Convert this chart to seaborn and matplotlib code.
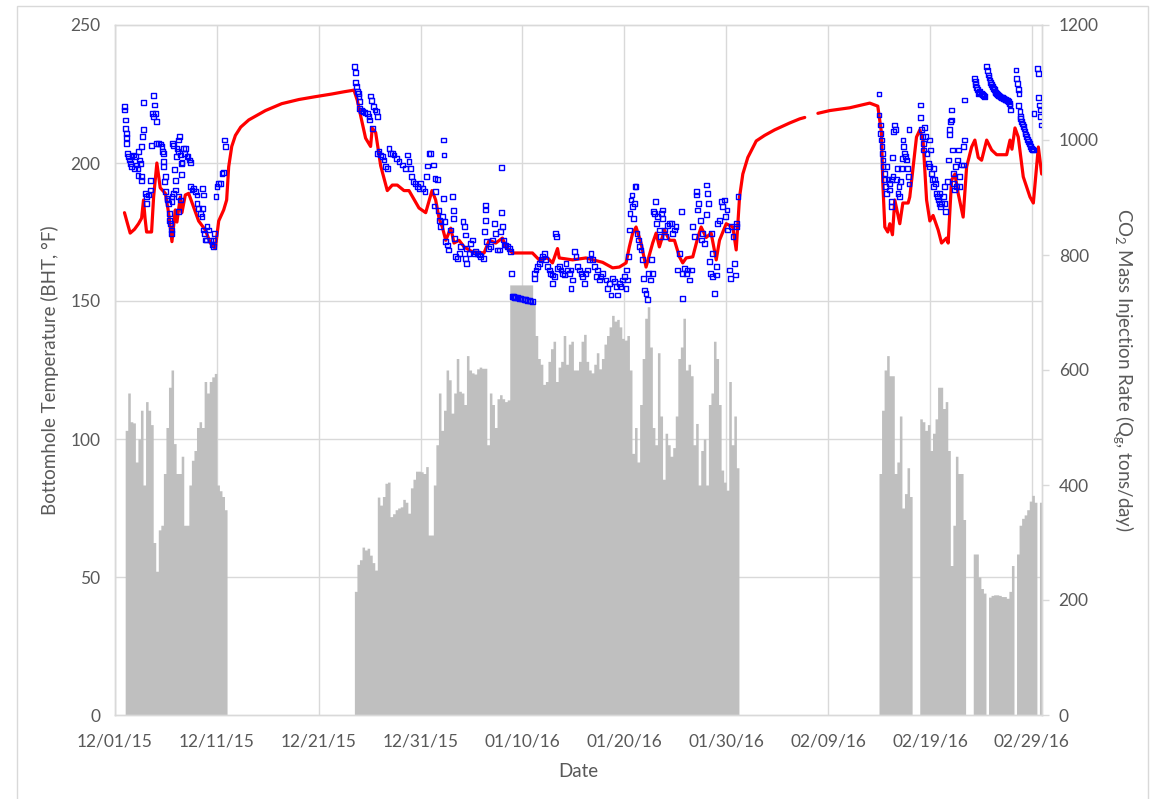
import numpy as np
import pandas as pd
import matplotlib
matplotlib.use("Agg")
import matplotlib.pyplot as plt
import matplotlib.dates as mdates
from matplotlib.patches import Rectangle
import seaborn as sns

# all times are days counted from 12/01/15
t0 = pd.Timestamp("2015-12-01")

# CO2 injection rate (tons/day), 6-hour bins, one list per injection period
rate_step = 0.25
rate_a_start = 1.0
rate_a = [495, 560, 510, 508, 440, 480, 530, 400, 545, 530,
          505, 300, 250, 322, 330, 420, 500, 570, 600, 472,
          420, 420, 450, 330, 330, 400, 443, 460, 500, 510,
          500, 580, 560, 580, 588, 594, 400, 390, 380, 357]
rate_b_start = 23.5
rate_b = [215, 262, 270, 292, 287, 290, 278, 265, 252, 379,
          365, 380, 403, 405, 345, 350, 357, 360, 362, 375,
          370, 351, 395, 410, 424, 424, 423, 420, 432, 313,
          313, 400, 470, 560, 495, 530, 600, 583, 525, 560,
          620, 563, 560, 540, 625, 600, 595, 593, 602, 605,
          603, 603, 470, 560, 540, 500, 550, 557, 550, 545,
          548, 748, 748, 748, 748, 748, 748, 748, 748, 748,
          720, 660, 620, 610, 575, 580, 615, 637, 650, 580,
          605, 615, 660, 610, 645, 650, 600, 600, 615, 650,
          662, 615, 600, 595, 610, 630, 602, 620, 645, 660,
          675, 695, 685, 688, 675, 655, 652, 660, 600, 455,
          500, 440, 540, 620, 690, 710, 640, 500, 470, 630,
          520, 410, 490, 470, 450, 465, 520, 620, 640, 690,
          600, 610, 590, 470, 507, 400, 460, 480, 400, 540,
          560, 650, 620, 540, 426, 405, 391, 580, 470, 520,
          430]
rate_c_start = 75.0
rate_c = [420, 530, 600, 625, 590, 590, 420, 440, 520, 360, 385, 430, 380]
rate_d_start = 79.0
rate_d = [515, 510, 495, 505, 460, 490, 515, 570, 570, 533,
          545, 460, 260, 330, 450, 420, 420, 340]
rate_e_start = 84.25
rate_e = [280, 280, 240, 220, 212, 0, 205, 208, 209, 209,
          208, 206, 206, 203, 215, 260, 0, 280, 330, 342,
          348, 357, 372, 382, 370, 0, 370]

# red line (BHT, F)
red_day = [0.93, 1.23, 1.49, 1.92, 2.31, 2.61, 2.80, 2.95, 3.10, 3.59,
           3.79, 4.11, 4.44, 4.94, 5.26, 5.59, 5.92, 6.08, 6.41, 6.57,
           6.90, 7.23, 7.72, 8.21, 8.87, 9.36, 9.85, 10.18, 10.67, 10.96,
           11.16, 11.46, 11.82, 12.34, 13.13, 14.77, 16.37, 18.05, 19.62, 21.29,
           22.47, 23.46, 23.78, 24.24, 24.60, 25.09, 25.25, 25.59, 26.08, 26.73,
           27.22, 27.71, 28.37, 28.86, 29.84, 30.50, 31.12, 31.48, 31.81, 32.13,
           32.47, 32.96, 33.28, 33.78, 34.27, 35.08, 36.23, 36.73, 37.38, 38.03,
           38.37, 39.02, 40.98, 41.64, 42.46, 42.95, 43.44, 43.61, 44.92, 46.23,
           47.87, 48.85, 49.51, 50.17, 50.49, 50.82, 51.15, 51.64, 52.13, 52.78,
           53.12, 53.44, 53.93, 54.43, 54.92, 55.41, 55.73, 56.07, 56.72, 57.21,
           57.54, 58.03, 58.52, 59.02, 59.34, 60.00, 60.65, 60.98, 61.31, 61.63,
           62.12, 62.95, 63.77, 64.75, 66.23, 67.22, 67.71, 69.00, 70.17, 72.12,
           74.09, 74.88, 75.24, 75.37, 75.57, 75.86, 76.06, 76.32, 76.55, 77.04,
           77.34, 77.86, 78.02, 78.68, 79.01, 79.33, 79.67, 79.99, 80.31, 80.81,
           81.14, 81.63, 81.79, 82.12, 82.45, 82.77, 83.26, 83.60, 84.09, 84.41,
           84.74, 85.07, 85.57, 86.06, 86.55, 87.53, 87.86, 88.05, 88.35, 88.67,
           89.16, 89.82, 90.15, 90.64, 90.97]
red_bht = [182, 178, 174.6, 176, 178, 180, 186.6, 180, 175, 175,
           187.7, 200, 191, 189, 182, 171.5, 183, 178.6, 187.7, 182,
           188.4, 189, 184, 179, 175.7, 171, 169, 179, 183, 186.6,
           198.6, 206, 210, 213, 215.6, 219, 221.5, 223, 224, 225,
           225.8, 226.4, 222.8, 215, 209, 206, 212.6, 211, 199, 190,
           192, 192, 190, 190, 183.7, 182, 190, 186.6, 180, 176.8,
           172, 176.4, 171, 172, 169.6, 167.8, 167.4, 172, 171, 172.8,
           169.6, 167.4, 167.4, 164.9, 165.6, 163.8, 169, 165.6, 164.9, 165.6,
           164, 162, 162.3, 163.8, 169.6, 174.6, 176.8, 171, 162.3, 171,
           174.6, 169.6, 175.7, 172, 172, 166, 163.8, 165.6, 166, 173,
           176.8, 173, 174.6, 164.9, 172, 178, 176.8, 168.5, 187.7, 196,
           202, 208, 210, 212, 214.5, 216, 216.5, 218, 219, 220,
           221.7, 220.6, 211, 193, 176.8, 175, 178, 174, 186.6, 178,
           185.5, 185.5, 187.7, 209.4, 212, 208, 186.6, 179, 181, 175.7,
           171, 172.8, 171, 193.8, 196, 189, 180.4, 198.6, 205.8, 208.3,
           202, 201, 208.3, 204.7, 203, 203, 208.3, 205, 212.7, 209.4,
           195, 187.7, 185.5, 205.8, 196]
red_gap_day = 68.0

# blue squares (measured BHT, F)
blue_a_day = [0.93, 0.93, 1.07, 1.07, 1.16, 1.16, 1.16, 1.26, 1.33, 1.39,
              1.49, 1.59, 1.66, 1.82, 1.92, 2.05, 2.15, 2.25, 2.31, 2.38,
              2.47, 2.25, 2.57, 2.64, 2.57, 2.70, 2.80, 2.80, 2.97, 3.13,
              3.29, 3.46, 3.13, 3.46, 3.62, 3.69, 3.79, 3.79, 3.85, 3.95,
              4.05, 4.11, 4.28, 4.44, 4.61, 4.70, 4.77, 4.77, 4.77, 4.93,
              4.87, 4.93, 5.10, 5.19, 5.26, 5.33, 5.36, 5.42, 5.52, 5.52,
              5.59, 5.65, 5.75, 5.85, 5.92, 6.01, 6.08, 6.18, 6.24, 6.31,
              6.41, 6.51, 6.57, 6.74, 6.83, 6.96, 7.06, 7.16, 7.29, 7.39,
              6.51, 6.41, 6.24, 5.92, 5.75, 5.59, 6.24, 7.39, 7.56, 7.72,
              7.88, 8.05, 8.05, 8.21, 8.37, 8.54, 8.60, 8.70, 8.60, 8.70,
              8.80, 8.87, 9.03, 9.19, 9.36, 9.53, 9.69, 9.78, 10.01, 10.18,
              10.34, 10.50, 10.67, 10.83, 10.77, 9.91, 9.69, 8.93]
blue_a_bht = [220.6, 219.2, 215.6, 212.6, 210.8, 209.3, 207.1, 203.3, 202.3, 201.1,
              199.9, 198.7, 202.3, 202.9, 198.1, 202.3, 199.3, 198.1, 204.1, 201.1,
              199.9, 195.6, 195.1, 193.8, 205.9, 209.5, 212.0, 222.0, 189.0, 187.8,
              188.4, 190.2, 185.4, 193.8, 206.2, 218.0, 216.8, 224.6, 221.0, 218.0,
              215.0, 207.1, 207.1, 206.9, 205.9, 204.1, 203.5, 200.5, 198.7, 195.1,
              193.2, 189.6, 187.2, 186.6, 185.4, 181.8, 179.3, 178.1, 175.7, 174.5,
              186.0, 207.1, 206.2, 197.5, 193.8, 202.3, 205.3, 204.1, 208.3, 209.5,
              202.9, 199.9, 200.1, 205.3, 203.5, 205.3, 202.3, 202.3, 201.1, 200.2,
              195.7, 186.6, 182.4, 190.2, 189.0, 187.8, 187.8, 191.4, 190.2, 190.8,
              189.6, 188.4, 185.4, 183.6, 181.8, 180.6, 190.8, 188.4, 183.6, 175.7,
              174.5, 172.1, 176.9, 175.7, 172.1, 170.3, 169.7, 174.5, 191.4, 192.6,
              192.6, 196.3, 196.5, 205.9, 208.3, 187.8, 172.1, 172.1]

blue_b_day = [23.52, 23.62, 23.62, 23.68, 23.78, 23.88, 23.95, 24.01, 24.04, 24.18,
              24.34, 24.54, 24.77, 24.93, 25.00, 25.09, 25.16, 25.26, 25.36, 25.52,
              25.65, 25.75, 25.75, 25.91, 26.08, 26.24, 26.40, 26.57, 26.73, 26.90,
              27.06, 27.22, 27.39, 27.62, 27.88, 28.21, 28.54, 28.70, 28.86, 29.03,
              29.13, 29.26, 29.45, 29.68, 29.85, 30.01, 30.24, 30.44, 30.57, 30.67,
              30.83, 30.99, 31.26, 31.42, 31.49, 31.65, 32.21, 32.30, 31.32, 31.75,
              31.88, 31.98, 32.14, 32.21, 32.40, 32.47, 32.63, 32.73, 32.96, 33.12,
              33.22, 33.19, 33.29, 33.45, 33.62, 33.78, 33.94, 34.17, 34.27, 34.37,
              34.50, 34.43, 34.50, 34.76, 34.93, 35.09, 35.25, 35.42, 35.58, 35.75,
              35.91, 36.14, 36.27, 36.40, 36.40, 36.40, 36.50, 36.66, 36.89, 37.06,
              37.22, 37.38, 37.55, 37.71, 37.88, 37.94, 38.04, 38.11, 38.24, 38.37,
              38.53, 38.70, 38.86, 37.97, 38.93, 39.02, 39.10, 39.20, 39.35, 39.50,
              39.68, 39.85, 40.01, 40.17, 40.33, 40.50, 40.66, 40.82, 40.99, 41.15,
              41.15, 41.32, 41.48, 41.65, 41.81, 41.97, 42.14, 42.30, 42.46, 42.63,
              42.79, 42.96, 43.12, 42.96, 43.28, 43.35, 43.45, 43.61, 43.78, 43.94,
              44.10, 44.27, 44.43, 44.60, 44.76, 44.76, 44.92, 45.09, 45.25, 45.42,
              45.58, 45.74, 45.91, 46.07, 46.23, 46.40, 46.56, 46.73, 46.89, 47.05,
              47.22, 47.38, 47.55, 47.71, 47.87, 48.20, 48.36, 48.53, 48.69, 48.86,
              49.02, 49.18, 49.35, 49.51, 49.68, 49.84, 50.00, 50.17, 50.23, 50.33,
              50.43, 50.50, 50.56, 50.66, 50.76, 50.82, 50.89, 50.99, 51.05, 51.15,
              51.25, 51.41, 51.48, 51.64, 51.81, 51.87, 51.97, 52.13, 52.30, 52.40,
              52.53, 52.63, 52.79, 52.85, 52.95, 53.05, 53.12, 53.28, 53.45, 53.51,
              53.61, 53.71, 53.77, 53.94, 54.04, 54.26, 54.43, 54.59, 54.76, 54.92,
              55.08, 55.25, 55.41, 55.58, 55.67, 55.74, 55.90, 56.07, 56.23, 56.39,
              56.56, 56.72, 56.89, 57.05, 57.12, 57.21, 57.31, 57.44, 57.54, 57.71,
              57.87, 58.03, 58.10, 58.20, 58.30, 58.36, 58.43, 58.53, 58.62, 58.69,
              58.85, 59.02, 59.08, 59.18, 59.34, 59.51, 59.67, 59.84, 59.93, 60.07,
              60.16, 60.33, 60.39, 60.49, 60.66, 60.82, 60.92, 60.98, 61.05, 61.15]
blue_b_bht = [234.9, 232.7, 229.1, 227.7, 225.9, 225.2, 224.0, 222.2, 219.8, 219.0,
              218.6, 218.2, 217.8, 216.8, 215.6, 224.3, 222.5, 212.6, 220.4, 219.2,
              218.6, 216.8, 203.5, 204.1, 202.9, 202.3, 201.1, 198.7, 198.1, 205.3,
              203.5, 203.5, 202.9, 201.7, 200.5, 199.3, 198.1, 202.9, 200.5, 198.1,
              195.1, 193.2, 192.6, 191.4, 190.8, 192.6, 190.8, 189.6, 195.1, 198.9,
              203.5, 203.3, 199.3, 194.5, 189.6, 193.9, 208.3, 202.9, 184.4, 182.7,
              179.3, 176.9, 180.6, 187.2, 178.7, 171.5, 170.3, 168.5, 175.7, 187.8,
              182.7, 179.9, 172.7, 166.1, 165.5, 167.3, 169.7, 178.7, 176.9, 173.9,
              169.1, 165.5, 163.7, 167.3, 170.9, 172.1, 167.3, 167.9, 167.3, 166.7,
              166.1, 165.5, 175.1, 184.8, 183.0, 179.3, 171.5, 169.1, 169.7, 172.1,
              178.1, 174.5, 168.5, 168.5, 175.1, 182.1, 176.9, 172.1, 170.3, 170.3,
              169.7, 169.1, 167.9, 198.4, 160.0, 151.6, 151.5, 151.4, 151.3, 151.2,
              151.0, 150.9, 150.7, 150.6, 150.4, 150.3, 150.1, 150.0, 149.9, 160.0,
              158.2, 161.2, 162.4, 163.7, 164.9, 166.1, 167.3, 164.9, 162.4, 161.2,
              160.0, 159.4, 158.8, 156.4, 174.5, 173.3, 161.8, 162.4, 161.2, 160.0,
              159.4, 163.7, 161.2, 160.0, 161.2, 154.6, 157.6, 167.9, 166.1, 162.4,
              161.2, 160.0, 158.8, 156.4, 160.0, 161.2, 164.9, 167.3, 164.9, 162.4,
              158.8, 161.2, 157.6, 158.8, 160.0, 157.6, 154.6, 156.4, 152.2, 158.2,
              157.0, 155.2, 152.2, 156.4, 155.2, 157.6, 158.8, 154.6, 161.2, 157.6,
              166.1, 175.7, 181.8, 186.6, 188.4, 184.2, 179.9, 185.4, 191.4, 191.4,
              174.5, 172.1, 169.7, 168.5, 164.9, 158.2, 154.0, 152.8, 150.4, 160.0,
              157.6, 164.9, 160.0, 182.4, 181.8, 186.0, 178.1, 180.6, 175.7, 173.3,
              181.8, 183.0, 179.9, 175.7, 173.3, 177.5, 178.1, 178.1, 174.5, 175.7,
              176.9, 161.2, 167.3, 182.4, 160.0, 151.0, 161.8, 160.0, 161.2, 157.6,
              161.2, 176.9, 173.3, 188.4, 189.6, 183.0, 185.4, 179.3, 172.1, 174.5,
              170.9, 181.2, 192.0, 189.0, 185.4, 164.3, 160.0, 174.5, 167.3, 158.8,
              152.8, 159.4, 162.4, 178.1, 179.3, 186.0, 184.2, 186.6, 180.6, 183.0,
              175.7, 161.2, 158.2, 176.9, 173.3, 163.7, 159.4, 178.1, 176.9, 187.8]

blue_c_day = [75.00, 75.00, 75.14, 75.14, 75.23, 75.30, 75.33, 75.40, 75.40, 75.50,
              75.56, 75.66, 75.73, 75.79, 75.89, 75.99, 76.05, 76.22, 76.22, 76.22,
              76.32, 76.38, 76.45, 76.54, 76.64, 76.71, 76.81, 76.87, 76.97, 77.04,
              77.10, 77.20, 77.30, 77.36, 77.43, 77.53, 77.63, 77.69, 77.76, 77.86,
              77.95, 77.95, 79.07, 79.10, 79.17, 79.27, 79.33, 79.40, 79.49, 79.59,
              79.72, 79.82, 79.92, 79.99, 80.05, 80.15, 80.25, 80.31, 80.38, 80.48,
              80.58, 80.64, 80.71, 80.81, 80.90, 80.97, 81.04, 81.13, 81.30, 81.40,
              81.46, 81.56, 81.69, 81.79, 81.89, 81.95, 82.02, 82.12, 82.12, 82.22,
              82.28, 82.35, 82.44, 82.54, 82.61, 82.67, 82.77, 82.87, 82.94, 83.10,
              83.26, 83.33, 83.43, 83.43, 84.41, 84.51, 84.64, 84.74, 84.90, 85.07,
              85.23, 85.39, 85.56, 85.72, 85.89, 86.05, 86.21, 86.38, 86.54, 86.71,
              86.87, 87.03, 87.20, 87.36, 87.52, 87.69, 87.85, 87.92, 88.44, 88.51,
              88.57, 88.67, 88.74, 88.67, 88.84, 88.90, 89.00, 89.16, 89.33, 89.49,
              89.66, 89.82, 89.98, 90.15, 90.21, 90.54, 90.64, 90.64, 90.74, 90.80,
              90.87, 90.97, 84.46, 84.58, 84.82, 85.15, 85.31, 85.64, 85.80, 85.97,
              86.13, 86.30, 86.46, 86.62, 86.79, 86.95, 87.12, 87.28, 87.44, 87.60,
              87.77, 88.92, 89.08, 89.24, 89.41, 89.57, 89.74, 89.90, 90.07]
blue_c_bht = [225.0, 217.4, 213.8, 210.8, 208.3, 205.9, 203.5, 201.1, 198.7, 196.3,
              193.9, 191.4, 189.0, 198.7, 193.9, 190.2, 192.6, 193.9, 186.0, 184.2,
              202.1, 195.1, 211.4, 213.8, 212.0, 193.9, 198.1, 189.0, 191.4, 187.8,
              193.2, 198.1, 201.7, 208.3, 205.9, 203.5, 202.3, 201.1, 198.1, 195.1,
              192.4, 212.2, 221.0, 216.4, 212.0, 209.5, 207.1, 204.7, 212.8, 209.5,
              203.5, 199.9, 198.7, 208.3, 204.7, 196.3, 193.9, 198.1, 191.4, 193.9,
              192.6, 189.0, 187.8, 186.6, 185.4, 189.0, 184.2, 185.4, 187.8, 191.4,
              185.4, 182.4, 193.2, 201.1, 210.2, 212.0, 215.0, 215.6, 219.2, 204.7,
              196.3, 192.6, 190.2, 198.7, 191.4, 201.1, 204.7, 195.1, 191.4, 199.3,
              199.3, 205.9, 208.3, 222.8, 230.7, 228.3, 226.5, 225.2, 225.9, 225.2,
              224.6, 224.0, 234.9, 231.9, 230.1, 228.3, 227.1, 225.9, 225.2, 224.6,
              224.0, 223.8, 223.4, 223.1, 222.8, 222.2, 221.0, 219.2, 233.7, 230.7,
              228.9, 226.5, 225.2, 220.7, 218.6, 216.8, 215.0, 213.2, 211.4, 209.5,
              207.7, 206.5, 205.3, 204.7, 217.8, 234.3, 232.3, 223.8, 221.0, 219.2,
              216.8, 213.8, 229.5, 227.3, 225.5, 224.9, 224.3, 233.4, 231.0, 229.2,
              227.7, 226.5, 225.5, 224.9, 224.3, 223.9, 223.6, 223.2, 223.0, 222.5,
              221.6, 216.0, 214.1, 212.3, 210.5, 208.6, 207.1, 205.9, 205.0]

tick_days = [0, 10, 20, 30, 40, 50, 60, 70, 80, 90]


def to_time(days):
    return t0 + pd.to_timedelta(np.asarray(days, dtype=float), unit="D")


# build the rate series on a full 6-hour grid
rate = np.zeros(int(round(91 / rate_step)))
for start, vals in [(rate_a_start, rate_a), (rate_b_start, rate_b),
                    (rate_c_start, rate_c), (rate_d_start, rate_d),
                    (rate_e_start, rate_e)]:
    i = int(round(start / rate_step))
    rate[i:i + len(vals)] = vals
rate_edges = to_time(np.arange(len(rate) + 1) * rate_step)
rate_ext = np.append(rate, rate[-1])

red = pd.DataFrame({"time": to_time(red_day), "bht": red_bht})
red["part"] = (np.array(red_day) > red_gap_day).astype(int)

blue = pd.DataFrame({
    "time": to_time(blue_a_day + blue_b_day + blue_c_day),
    "bht": blue_a_bht + blue_b_bht + blue_c_bht,
})

sns.set_theme(style="white")
plt.rcParams["font.family"] = ["Lato", "DejaVu Sans"]
plt.rcParams["mathtext.fontset"] = "custom"
plt.rcParams["mathtext.rm"] = "Lato"
txt = "#595959"
grid = "#D9D9D9"

fig = plt.figure(figsize=(11.51, 7.99), dpi=100)
ax = fig.add_axes([115 / 1151, 84 / 799, 927 / 1151, 690 / 799])
ax2 = ax.twinx()

# rate on the lower axes, temperatures on the twin so they sit on top
ax.fill_between(rate_edges, rate_ext, step="post", color="#BFBFBF", lw=0, zorder=2)
sns.lineplot(data=red, x="time", y="bht", units="part", estimator=None,
             color="#FF0000", lw=2.3, ax=ax2, zorder=3, legend=False)
sns.scatterplot(data=blue, x="time", y="bht", ax=ax2, marker="s", s=12,
                facecolor="none", edgecolor="#0000FF", linewidth=1.0,
                zorder=4, legend=False)

ax.set_xlim(t0, t0 + pd.Timedelta(days=91))
ax.set_ylim(0, 1200)
ax2.set_ylim(0, 250)

ax.set_xticks(to_time(tick_days))
ax.xaxis.set_major_formatter(mdates.DateFormatter("%m/%d/%y"))
ax.set_yticks(range(0, 1201, 200))
ax.set_yticks(np.arange(0, 1201, 240), minor=True)
ax2.set_yticks(range(0, 251, 50))

ax.yaxis.tick_right()
ax.yaxis.set_label_position("right")
ax2.yaxis.tick_left()
ax2.yaxis.set_label_position("left")

ax.set_axisbelow(True)
ax.grid(True, axis="x", which="major", color=grid, lw=1)
ax.grid(True, axis="y", which="minor", color=grid, lw=1)

ax.tick_params(axis="x", length=0, pad=13, labelsize=12.5, labelcolor=txt)
ax.tick_params(axis="y", which="major", right=True, length=5, width=1,
               color=grid, direction="out", pad=7, labelsize=12.5, labelcolor=txt)
ax.tick_params(axis="y", which="minor", length=0)
ax2.tick_params(axis="y", length=0, pad=10.5, labelsize=12.5, labelcolor=txt)

for a in (ax, ax2):
    for sp in a.spines.values():
        sp.set_color(grid)
        sp.set_linewidth(1)

ax.set_xlabel("Date", fontsize=13.5, color=txt)
ax.xaxis.set_label_coords(0.4995, -0.0812)
ax.xaxis.label.set(va="center")
ax2.set_ylabel("Bottomhole Temperature (BHT, \u00b0F)", fontsize=13.5, color=txt)
ax2.yaxis.set_label_coords(-0.0701, 0.5)
ax2.yaxis.label.set(va="center", ha="center", rotation_mode="default")
ax.set_ylabel(r"CO$_\mathregular{2}$ Mass Injection Rate (Q$_\mathregular{g}$, tons/day)",
              fontsize=13.5, color=txt, rotation=270)
ax.yaxis.set_label_coords(1.0874, 0.5)
ax.yaxis.label.set(va="center", ha="center", rotation_mode="default")

# chart-area border
fig.add_artist(Rectangle((17 / 1151, -0.01), 1131 / 1151, 1.0025,
                         transform=fig.transFigure, fill=False,
                         edgecolor=grid, lw=1))

fig.savefig("out.png", dpi=100)
